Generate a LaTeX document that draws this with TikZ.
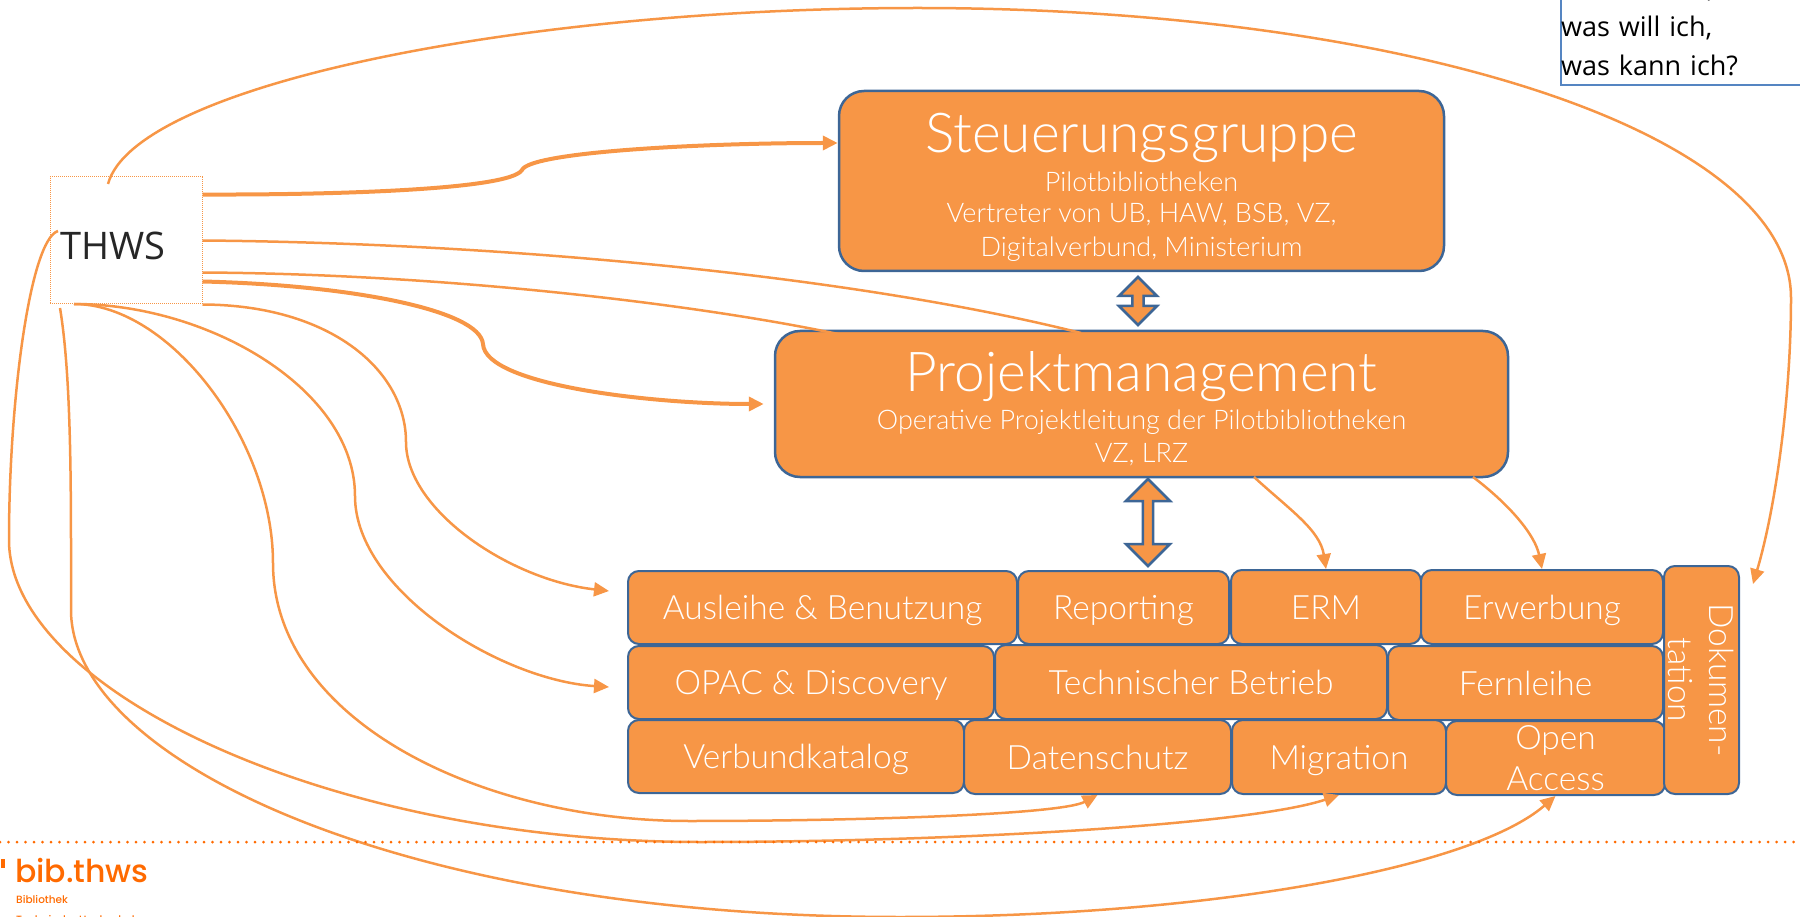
\documentclass[tikz,border=0pt]{standalone}
\usepackage{fontspec}
\setmainfont{Open Sans}
\newfontfamily\boxfont{Lato Light}
\newfontfamily\logofont{Poppins Medium}
\newcommand\bigsize{\fontsize{55}{48}\selectfont}
\newcommand\subsize{\fontsize{27}{32.5}\selectfont}
\usetikzlibrary{arrows.meta,shapes.arrows,calc}
\definecolor{boxorange}{HTML}{F79646}
\definecolor{boxblue}{HTML}{3D6696}
\definecolor{notblue}{HTML}{5585C2}
\definecolor{logoorange}{HTML}{FF6A00}
\tikzset{
  bigbox/.style={draw=boxblue,fill=boxorange,line width=2.5pt,rounded corners=25pt,text=white,align=center,font=\boxfont,inner sep=0pt},
  cellbox/.style={draw=boxblue,fill=boxorange,line width=2pt,rounded corners=11pt,text=white,align=center,inner sep=0pt,font=\boxfont\fontsize{33.5}{41}\selectfont},
  updown/.style={draw=boxblue,fill=boxorange,line width=2.5pt,double arrow,rotate=90,inner sep=0pt,double arrow tip angle=90,double arrow head indent=0pt},
  conn/.style={draw=boxorange,line width=2.5pt,-{Triangle[length=15pt,width=14pt]}},
  connthin/.style={draw=boxorange,line width=2.5pt},
  connthick/.style={draw=boxorange,line width=4pt,-{Triangle[length=15pt,width=14pt]}},
}
\begin{document}
\begin{tikzpicture}[x=1pt,y=-1pt]
  \useasboundingbox (0,0) rectangle (1800,917);
  % main boxes
  \node[bigbox,minimum width=605pt,minimum height=180pt] (stg) at (1141.5,181) {%
    \rule{0pt}{52pt}\bigsize Steuerungsgruppe\\[8pt]
    \subsize Pilotbibliotheken\\[10pt]
    \subsize Vertreter von UB, HAW, BSB, VZ,\\[10pt]
    \subsize Digitalverbund, Ministerium};
  \node[bigbox,minimum width=733pt,minimum height=146pt] (pm) at (1141.5,404) {%
    \rule{0pt}{50pt}\bigsize Projektmanagement\\[7pt]
    \subsize Operative Projektleitung der Pilotbibliotheken\\[8pt]
    \subsize VZ, LRZ};
  \node[updown,minimum height=48pt,minimum width=38pt,double arrow head extend=3pt] (arrowa) at (1138,301) {};
  \node[updown,minimum height=87pt,minimum width=44pt,double arrow head extend=4pt] (arrowb) at (1148,522.5) {};
  % working groups
  \foreach \id/\xa/\xb/\ya/\yb/\lbl in {
    ausleihe/628/1017/571/644/Ausleihe \& Benutzung,
    reporting/1018/1229/571/644/Reporting,
    erm/1231/1421/570/644/ERM,
    erwerbung/1421/1663/570/644/Erwerbung,
    opac/628/994/646/719/OPAC \& Discovery,
    betrieb/995/1387/645/719/Technischer Betrieb,
    fernleihe/1388/1663/646/720/Fernleihe,
    verbund/628/964/720/793/Verbundkatalog,
    datenschutz/964/1231/720/794/Datenschutz,
    migration/1232/1446/720/794/Migration} {
    \node[cellbox,text height=24pt,text depth=0pt,minimum width=\xb-\xa,minimum height=\yb-\ya] (\id) at ({(\xa+\xb)/2},{(\ya+\yb)/2}) {\lbl};
  }
  \node[cellbox,minimum width=219pt,minimum height=74pt] (access) at (1555.5,758) {Open\\Access};
  \node[cellbox,rotate=-90,minimum width=228pt,minimum height=75pt] (doku) at (1701.5,680) {Dokumen-\\tation};
  % source and note
  \node[draw=boxorange,densely dotted,line width=1pt,minimum width=152pt,minimum height=127pt,text width=142pt,text height=38pt,text depth=0pt,inner xsep=5pt,inner ysep=0pt,align=left,font=\fontsize{38}{40}\selectfont,text=black!85] (thws) at (126,240.5) {\hspace{5pt}THWS};
  \node[draw=notblue,line width=2pt,fill=white,anchor=south west,text width=300pt,inner xsep=0pt,inner ysep=9pt,align=left,font=\fontsize{27}{39}\selectfont] (note) at (1560,86) {\rule{0pt}{100pt}\hspace{146pt},\\was will ich,\\was kann ich?};
  \coordinate (arrtop) at (1753,584);
  \coordinate (arrausleihe) at (609,591);
  \coordinate (arropac) at (609,687);
  \coordinate (thwstop) at (108,184);
  \coordinate (thwsleft) at (58,231);
  \coordinate (thwsbottom) at (60,308);
  \coordinate (thwscorner) at (74,304);
  \coordinate (pma) at (1081,333);
  \coordinate (pmb) at (838,334);
  \coordinate (pmc) at (1254,477);
  \coordinate (pmd) at (1473,477);
  % connectors
  \draw[conn] (thwstop) .. controls (135,85) and (520,8) .. (918,8) .. controls (1400,8) and (1791,130) .. (1791,298) .. controls (1791,400) and (1775,510) .. (arrtop);
  \draw[connthick] ($(thws.east)+(0,-46)$) .. controls (330,195) and (510,190) .. (522,170) .. controls (530,152) and (700,143) .. ($(stg.west)+(0,-38)$);
  \draw[connthin] ($(thws.east)+(0,0)$) .. controls (500,243) and (850,275) .. (pma);
  \draw[connthin] ($(thws.east)+(0,32)$) .. controls (450,274) and (700,305) .. (pmb);
  \draw[connthick,shorten >=10pt] ($(thws.east)+(0,41)$) .. controls (350,285) and (480,310) .. (483,344) .. controls (485,385) and (650,404) .. (pm.west);
  \draw[conn] (thws.south east) .. controls (330,305) and (406,370) .. (406,442) .. controls (406,510) and (510,580) .. (arrausleihe);
  \draw[conn] (thwscorner) .. controls (210,304) and (355,390) .. (355,496) .. controls (355,590) and (500,680) .. (arropac);
  \draw[conn] (thwscorner) .. controls (170,304) and (273,440) .. (273,563) .. controls (273,720) and (480,821) .. (689,821) .. controls (850,821) and (1060,815) .. (datenschutz.south);
  \draw[conn] (thwsleft) .. controls (30,240) and (9,400) .. (9,540) .. controls (9,690) and (330,842) .. (700,842) .. controls (950,842) and (1250,825) .. (migration.south);
  \draw[conn] (thwsbottom) .. controls (72,380) and (71,500) .. (71,610) .. controls (71,760) and (400,917) .. (900,917) .. controls (1200,917) and (1470,870) .. (access.south);
  \draw[conn] (pmc) .. controls (1290,510) and (1320,530) .. (erm.north);
  \draw[conn] (pmd) .. controls (1510,505) and (1535,535) .. (erwerbung.north);
  % footer
  \coordinate (footl) at (0,842);
  \coordinate (footr) at (1800,842);
  \draw[logoorange,line width=3pt,line cap=round,dash pattern=on 0pt off 8.5pt] (footl) -- (footr);
  \fill[logoorange] (1,859) rectangle (5,868);
  \node[anchor=base west,inner sep=0pt,text=logoorange,font=\logofont\fontsize{31.5}{36}\selectfont] (logo) at (15,882) {bib.thws};
  \node[anchor=base west,inner sep=0pt,text=logoorange,font=\logofont\fontsize{10.5}{12}\selectfont] (logosub) at (16,903) {Bibliothek};
  \node[anchor=base west,inner sep=0pt,text=logoorange,font=\logofont\fontsize{10.5}{12}\selectfont] (logouni) at (16,923.5) {Technische Hochschule};
\end{tikzpicture}
\end{document}
